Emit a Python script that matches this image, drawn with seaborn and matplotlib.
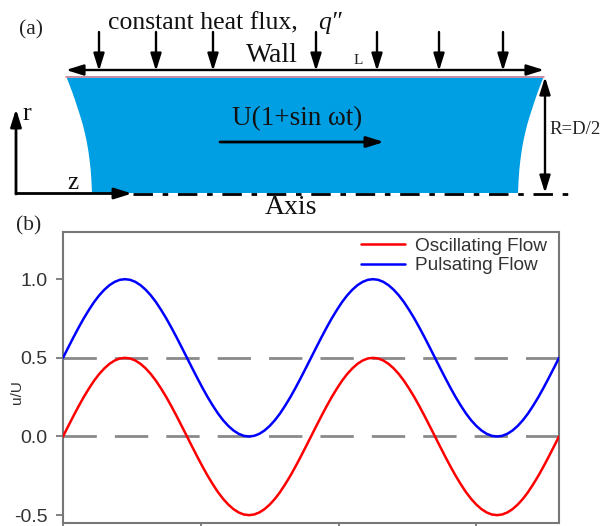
import matplotlib
matplotlib.use("Agg")
import seaborn as sns
import pandas as pd
import matplotlib.pyplot as plt
from matplotlib.patches import Polygon

# values, one reading every 1/48 of a period
x_vals = [round(i * 0.0375, 4) for i in range(97)]
oscillating = [0.0, 0.065, 0.129, 0.191, 0.25, 0.304, 0.354, 0.397, 0.433, 0.462, 0.483, 0.496,
               0.5, 0.496, 0.483, 0.462, 0.433, 0.397, 0.354, 0.304, 0.25, 0.191, 0.129, 0.065,
               0.0, -0.065, -0.129, -0.191, -0.25, -0.304, -0.354, -0.397, -0.433, -0.462, -0.483, -0.496,
               -0.5, -0.496, -0.483, -0.462, -0.433, -0.397, -0.354, -0.304, -0.25, -0.191, -0.129, -0.065,
               0.0, 0.065, 0.129, 0.191, 0.25, 0.304, 0.354, 0.397, 0.433, 0.462, 0.483, 0.496,
               0.5, 0.496, 0.483, 0.462, 0.433, 0.397, 0.354, 0.304, 0.25, 0.191, 0.129, 0.065,
               0.0, -0.065, -0.129, -0.191, -0.25, -0.304, -0.354, -0.397, -0.433, -0.462, -0.483, -0.496,
               -0.5, -0.496, -0.483, -0.462, -0.433, -0.397, -0.354, -0.304, -0.25, -0.191, -0.129, -0.065,
               0.0]
pulsating = [0.5, 0.565, 0.629, 0.691, 0.75, 0.804, 0.854, 0.897, 0.933, 0.962, 0.983, 0.996,
             1.0, 0.996, 0.983, 0.962, 0.933, 0.897, 0.854, 0.804, 0.75, 0.691, 0.629, 0.565,
             0.5, 0.435, 0.371, 0.309, 0.25, 0.196, 0.146, 0.103, 0.067, 0.038, 0.017, 0.004,
             0.0, 0.004, 0.017, 0.038, 0.067, 0.103, 0.146, 0.196, 0.25, 0.309, 0.371, 0.435,
             0.5, 0.565, 0.629, 0.691, 0.75, 0.804, 0.854, 0.897, 0.933, 0.962, 0.983, 0.996,
             1.0, 0.996, 0.983, 0.962, 0.933, 0.897, 0.854, 0.804, 0.75, 0.691, 0.629, 0.565,
             0.5, 0.435, 0.371, 0.309, 0.25, 0.196, 0.146, 0.103, 0.067, 0.038, 0.017, 0.004,
             0.0, 0.004, 0.017, 0.038, 0.067, 0.103, 0.146, 0.196, 0.25, 0.309, 0.371, 0.435,
             0.5]
y_ticks = [-0.5, 0.0, 0.5, 1.0]
y_labels = ["-0.5", "0.0", "0.5", "1.0"]
x_ticks = [0, 1, 2, 3]
ref_levels = [0.0, 0.5]

# diagram of panel (a), in image pixels
flux_x = [99, 156, 213, 316, 377, 439, 503]
edge_y = [76, 84, 92, 100, 108, 116, 124, 132, 140, 150, 160, 170, 180, 193]
left_edge_x = [66, 69.2, 72.2, 75, 77.6, 80.2, 82.6, 84.6, 86.4, 88.2, 89.6, 90.7, 91.4, 92]
right_edge_x = [544, 540.8, 537.8, 535, 532.4, 529.8, 527.4, 525.4, 523.6, 521.8, 520.4, 519.3, 518.6, 518]

sns.set_theme(style="ticks")
plt.rcParams["font.family"] = ["Liberation Sans", "DejaVu Sans"]

W, H = 601, 526
fig = plt.figure(figsize=(W / 100, H / 100), dpi=100)

# panel (b)
ax = fig.add_axes([63 / W, 1 - 523 / H, (559 - 63) / W, (523 - 232) / H])
df = pd.DataFrame({
    "x": x_vals * 2,
    "y": oscillating + pulsating,
    "flow": ["Oscillating Flow"] * len(x_vals) + ["Pulsating Flow"] * len(x_vals),
})
for lev in ref_levels:
    ax.axhline(lev, color="#8a8a8a", lw=2, dashes=(12, 6.5), zorder=1)
sns.lineplot(data=df, x="x", y="y", hue="flow", palette=["#ff0000", "#0000ff"],
             lw=1.8, ax=ax, zorder=3)
ax.set_xlim(0, 3.6)
ax.set_ylim(-0.55, 1.3)
ax.set_xticks(x_ticks)
ax.set_xticklabels([])
ax.set_yticks(y_ticks)
ax.set_yticklabels(y_labels, fontsize=14, color="#333333")
ax.set_xlabel("")
ax.set_ylabel("")
ax.tick_params(axis="both", length=5, width=1.3, color="#777777", pad=6)
for s in ax.spines.values():
    s.set_visible(True)
    s.set_color("#777777")
    s.set_linewidth(1.5)
leg = ax.legend(loc="upper right", frameon=False, fontsize=13.7, handlelength=2.35,
                handletextpad=0.5, labelspacing=0.12, borderaxespad=0,
                bbox_to_anchor=(0.991, 1.008), title=None)
for t in leg.get_texts():
    t.set_color("#333333")

# panel (a) and the labels drawn in image pixels
ov = fig.add_axes([0, 0, 1, 1], facecolor="none")
ov.set_xlim(0, W)
ov.set_ylim(H, 0)
ov.axis("off")

edge_l = list(zip(left_edge_x, edge_y))
edge_r = list(zip(right_edge_x, edge_y))[::-1]
ov.add_patch(Polygon(edge_l + edge_r, closed=True, fc="#009fe3", ec="none", zorder=1))
ov.plot([66, 544], [76.5, 76.5], color="#f08a9a", lw=1.2, zorder=2)


def arrow(x0, y0, x1, y1, two_way=False, lw=1.7):
    head = "<|-|>" if two_way else "-|>"
    ov.annotate("", xy=(x1, y1), xytext=(x0, y0), zorder=4,
                arrowprops=dict(arrowstyle=head + ",head_length=0.8,head_width=0.25", color="black",
                                lw=lw, mutation_scale=13, shrinkA=0, shrinkB=0))


for fx in flux_x:
    arrow(fx, 32, fx, 71)
arrow(66, 70, 544, 70, two_way=True)
arrow(545, 77, 545, 193, two_way=True)
arrow(220, 142, 384, 142, lw=2)
arrow(16, 194, 16, 109, lw=2)
arrow(16, 193.5, 132, 193.5, lw=2)
ov.plot([133, 568], [193.5, 193.5], color="black", lw=2, dashes=(7, 3.5, 2, 3.5), zorder=3)

serif = ["Liberation Serif", "DejaVu Serif"]
ov.text(31, 30, "(a)", family=serif, fontsize=15.5, ha="center", va="center", color="#222222")
ov.text(29, 226, "(b)", family=serif, fontsize=15.5, ha="center", va="center", color="#222222")
ov.text(108, 29, "constant heat flux, ", family=serif, fontsize=18.5, ha="left", va="baseline", color="#111111")
ov.text(318, 29, "q\u2033", family=serif, style="italic", fontsize=18.5, ha="left", va="baseline", color="#111111")
ov.text(272, 56, "Wall", family=serif, fontsize=20, ha="center", va="center", color="#111111")
ov.text(358, 61, "L", family=serif, fontsize=11, ha="center", va="center", color="#222222")
ov.text(297, 119, "U(1+sin \u03c9t)", family=serif, fontsize=19.5, ha="center", va="center", color="#111111")
ov.text(575, 130, "R=D/2", family=serif, fontsize=13.5, ha="center", va="center", color="#222222")
ov.text(291, 207, "Axis", family=serif, fontsize=20, ha="center", va="center", color="#111111")
ov.text(27, 114, "r", family=serif, fontsize=19, ha="center", va="center", color="#111111")
ov.text(73, 183, "z", family=serif, fontsize=18, ha="center", va="center", color="#111111")
ov.text(17, 392, "u/U", fontsize=11, rotation=90, ha="center", va="center", color="#333333")

fig.savefig("out.png", dpi=100)
